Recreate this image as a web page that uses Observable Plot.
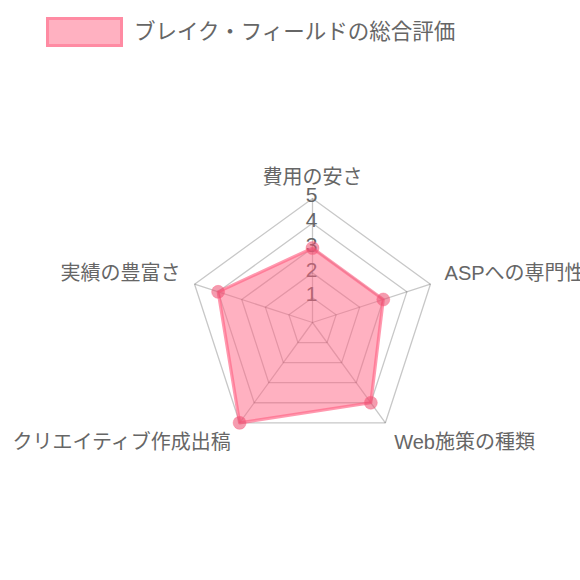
<!DOCTYPE html>
<html>
<head>
<meta charset="utf-8">
<script src="https://cdn.jsdelivr.net/npm/d3@7"></script>
<script src="https://cdn.jsdelivr.net/npm/@observablehq/plot@0.6"></script>
<style>
  html, body { margin: 0; padding: 0; background: #fff; }
  body { width: 580px; height: 580px; overflow: hidden; font-family: "Liberation Sans", "Noto Sans CJK JP", sans-serif; }
  #legend { position: relative; height: 64px; width: 580px; }
  #legend .box { position: absolute; left: 46px; top: 17px; width: 71px; height: 24px; background: #ffb1c1; border: 3px solid #ff8ba3; }
  #legend .label { position: absolute; left: 134px; top: 17px; height: 30px; line-height: 30px; font-size: 21.5px; color: #666; white-space: nowrap; }
</style>
</head>
<body>
<div id="legend"><span class="box"></span><span class="label"></span></div>
<div id="chart"></div>
<script>
const seriesName = "ブレイク・フィールドの総合評価";
const categories = ["費用の安さ", "ASPへの専門性", "Web施策の種類", "クリエイティブ作成出稿", "実績の豊富さ"];
const scores = [3, 3, 4, 5, 4];
const ticks = [1, 2, 3, 4, 5];
const maxValue = 5;

document.querySelector("#legend .label").textContent = seriesName;

const W = 580, H = 516;
const cx = 312, cy = 258;   // centre of the radar in the svg
const U = 24.8;             // px per rating unit
const labelR = 5.6;

const n = categories.length;
const ang = i => i * 2 * Math.PI / n;
const px = (r, i) => r * Math.sin(ang(i));
const py = (r, i) => r * Math.cos(ang(i));

// grid rings
const ringPts = [];
for (const t of ticks) for (let i = 0; i < n; i++) ringPts.push({level: t, x: px(t, i), y: py(t, i)});
// spokes
const spokes = categories.map((c, i) => ({x1: 0, y1: 0, x2: px(maxValue, i), y2: py(maxValue, i)}));
// data polygon
const poly = scores.map((v, i) => ({cat: categories[i], x: px(v, i), y: py(v, i)}));
// point labels
const labels = categories.map((c, i) => {
  const deg = ang(i) * 180 / Math.PI;
  const textAnchor = (deg === 0 || deg === 180) ? "middle" : (deg < 180 ? "start" : "end");
  const lineAnchor = (deg === 90 || deg === 270) ? "middle" : ((deg < 90 || deg > 270) ? "bottom" : "top");
  return {text: c, x: px(labelR, i), y: py(labelR, i), textAnchor, lineAnchor};
});
const groups = d3.groups(labels, d => d.textAnchor + "|" + d.lineAnchor);

const gridColor = "rgba(0,0,0,0.22)";
const pink = "rgb(255,99,132)";

const plot = Plot.plot({
  width: W, height: H,
  margin: 0,
  x: {domain: [-cx / U, (W - cx) / U], axis: null},
  y: {domain: [-(H - cy) / U, cy / U], axis: null},
  style: {fontFamily: "'Liberation Sans', 'Noto Sans CJK JP', sans-serif", color: "#666", background: "transparent", overflow: "visible"},
  marks: [
    Plot.line(ringPts, {x: "x", y: "y", z: "level", curve: "linear-closed", stroke: gridColor, strokeWidth: 1.3}),
    Plot.link(spokes, {x1: "x1", y1: "y1", x2: "x2", y2: "y2", stroke: gridColor, strokeWidth: 1.3}),
    Plot.text(ticks, {x: () => 0, y: d => d, text: d => String(d), fontSize: 21, fill: "#666", dx: -1, dy: -3}),
    ...groups.map(([key, arr]) => Plot.text(arr, {
      x: "x", y: "y", text: "text",
      textAnchor: arr[0].textAnchor, lineAnchor: arr[0].lineAnchor,
      fontSize: 20, fill: "#666"
    })),
    Plot.line(poly, {x: "x", y: "y", curve: "linear-closed", fill: pink, fillOpacity: 0.5, stroke: "none"}),
    Plot.line(poly, {x: "x", y: "y", curve: "linear-closed", stroke: pink, strokeOpacity: 0.65, strokeWidth: 3.2}),
    Plot.dot(poly, {x: "x", y: "y", r: 6.5, fill: "rgb(235,75,110)", fillOpacity: 0.55, stroke: "rgb(255,99,132)", strokeOpacity: 0.4, strokeWidth: 1})
  ]
});
document.getElementById("chart").appendChild(plot);
</script>
</body>
</html>
